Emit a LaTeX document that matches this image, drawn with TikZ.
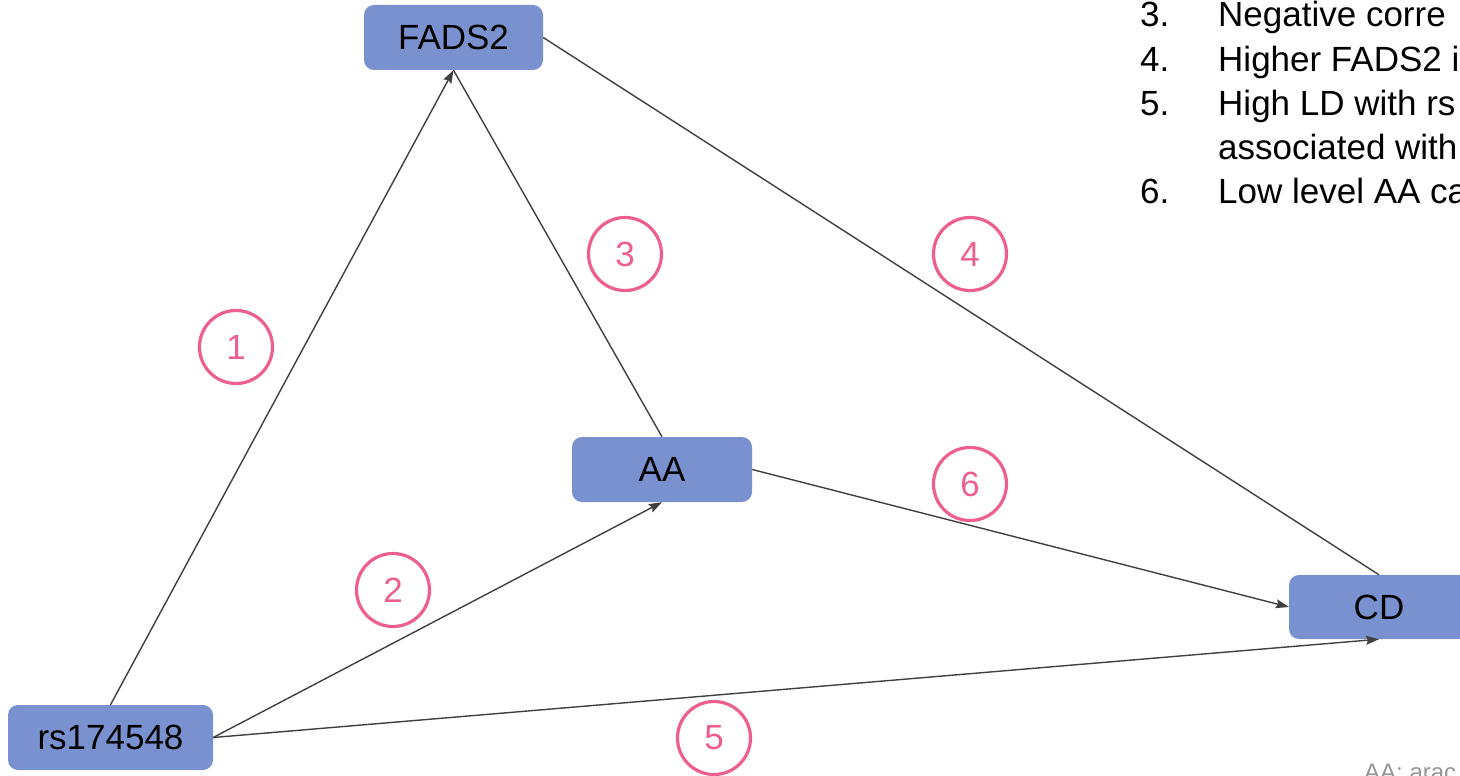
\documentclass[tikz,border=0pt]{standalone}
\usepackage{fontspec}
\setmainfont{Liberation Sans}
\usetikzlibrary{arrows.meta}
\definecolor{boxblue}{RGB}{121,146,207}
\definecolor{numpink}{RGB}{237,96,142}
\definecolor{edgegray}{RGB}{64,64,64}
\definecolor{notegray}{RGB}{150,150,150}
\tikzset{
  box/.style={fill=boxblue, rounded corners=10pt, inner sep=0pt, text=black,
    font=\fontsize{35}{42}\selectfont},
  numcircle/.style={circle, draw=numpink, line width=3.2pt, minimum size=73pt, inner sep=0pt,
    text=numpink, font=\fontsize{35}{40}\selectfont},
  edge/.style={draw=edgegray, line width=1.4pt},
  arr/.style={edge, -{Stealth[length=13pt,width=9pt,inset=2pt]}},
  listtext/.style={anchor=base west, inner sep=0pt, font=\fontsize{35}{42}\selectfont}
}
\begin{document}
\begin{tikzpicture}[x=1pt,y=-1pt]
\useasboundingbox (0,0) rectangle (1460,776);
\clip (0,0) rectangle (1460,776);
\fill[white] (0,0) rectangle (1460,776);
% nodes
\node[box, minimum width=179pt, minimum height=65pt] (fads) at (453.5,37.5) {FADS2};
\node[box, minimum width=180pt, minimum height=65pt] (aa) at (662,469.5) {AA};
\node[box, minimum width=180pt, minimum height=64pt] (cd) at (1379,607) {CD};
\node[box, minimum width=205pt, minimum height=65pt] (rs) at (110.5,737.5) {rs174548};
% connectors
\draw[arr] (rs.north) -- (fads.south);
\draw[edge] (aa.north) -- (fads.south);
\draw[arr] (rs.east) -- (aa.south);
\draw[edge] (fads.east) -- (cd.north);
\draw[arr] (rs.east) -- (cd.south);
\draw[arr] (aa.east) -- (cd.west);
% numbered circles
\node[numcircle] (n1) at (236,347) {1};
\node[numcircle] (n2) at (393,590) {2};
\node[numcircle] (n3) at (625,254) {3};
\node[numcircle] (n4) at (970,254) {4};
\node[numcircle] (n5) at (714,738) {5};
\node[numcircle] (n6) at (970,484) {6};
% list text
\node[listtext] (l3n) at (1140,27) {3.};
\node[listtext] (l3t) at (1218,27) {Negative corre};
\node[listtext] (l4n) at (1140,71) {4.};
\node[listtext] (l4t) at (1218,71) {Higher FADS2 i};
\node[listtext] (l5n) at (1140,115) {5.};
\node[listtext] (l5t) at (1218,115) {High LD with rs};
\node[listtext] (l5c) at (1218,159) {associated with};
\node[listtext] (l6n) at (1140,203) {6.};
\node[listtext] (l6t) at (1218,203) {Low level AA ca};
% note
\node[anchor=base west, inner sep=0pt, text=notegray, font=\fontsize{24}{28}\selectfont] (note) at (1364,780) {AA: arac};
\end{tikzpicture}
\end{document}
